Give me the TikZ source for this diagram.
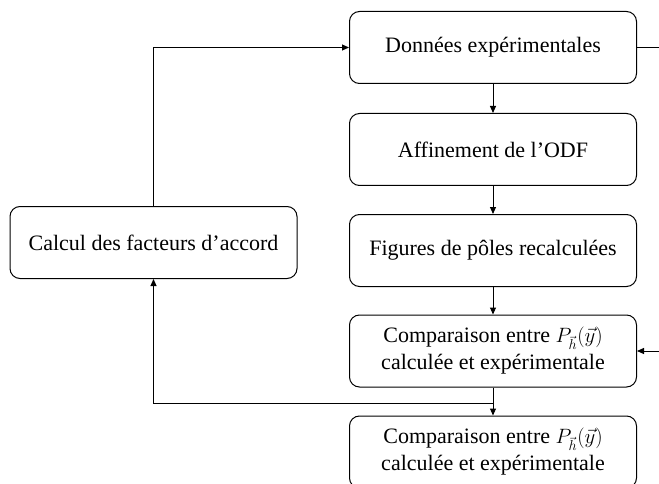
\documentclass[tikz,border=0pt]{standalone}
\usepackage{amsmath}
\usepackage{fontspec}
\setmainfont{Liberation Serif}
\usetikzlibrary{arrows.meta}

\begin{document}
\begin{tikzpicture}[x=1pt,y=-1pt,
    box/.style={draw, rounded corners=10pt, line width=1pt, minimum width=287pt, minimum height=72pt, align=center, font=\fontsize{22}{27}\selectfont},
    flow/.style={line width=1pt, -{Triangle[length=7pt,width=6pt]}}]
    \clip (0,0) rectangle (659,484);
    \node[box] (data) at (493,47.5) {Données expérimentales};
    \node[box] (affin) at (493,149.5) {Affinement de l’ODF};
    \node[box] (figs) at (493,250.5) {Figures de pôles recalculées};
    \node[box] (comp) at (493,351) {Comparaison entre $P_{\vec{h}}(\vec{y})$\\ calculée et expérimentale};
    \node[box] (compb) at (493,452) {Comparaison entre $P_{\vec{h}}(\vec{y})$\\ calculée et expérimentale};
    \node[box] (calc) at (153.5,242.5) {Calcul des facteurs d’accord};
    \coordinate (outR) at (659,47.5); \coordinate (inR) at (659,351);
    \coordinate (loopB) at (153.5,403);
    \foreach \a/\b in {data/affin,affin/figs,figs/comp,comp/compb} {\draw[flow] (\a) -- (\b);}
    \draw[flow] (calc.north) |- (data.west);
    \draw[line width=1pt] (data.east) -- (outR);
    \draw[flow] (inR) -- (comp.east);
    \draw[flow] (comp.south) |- (loopB) -- (calc.south);
\end{tikzpicture}
\end{document}
